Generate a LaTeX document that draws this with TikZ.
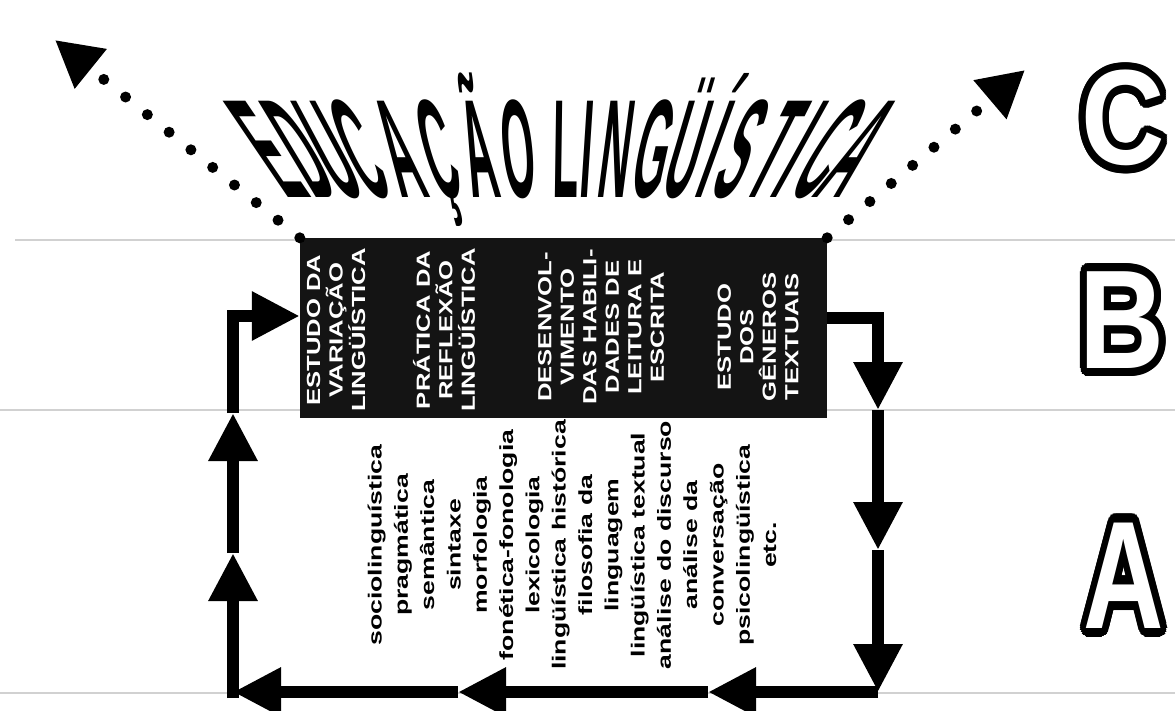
\documentclass[tikz,border=0pt]{standalone}
\usepackage{fontspec}
\usepackage{contour}
\usetikzlibrary{arrows.meta}
\setmainfont{Liberation Sans}
\newfontfamily\boxfont[FakeStretch=1.35]{Liberation Sans}
\newfontfamily\listfont[FakeStretch=1.4]{Liberation Sans}
\newfontfamily\titlefont{Liberation Sans}
\contourlength{6pt}
\contournumber{24}
\begin{document}
\begin{tikzpicture}[x=1pt,y=-1pt,
  guide/.style={draw=black!18, line width=1.3pt},
  dotline/.style={line width=11pt, line cap=round, dash pattern=on 0pt off 28pt, -{Triangle[length=46pt,width=48pt]}},
  flow/.style={line width=12pt, line join=miter, -{Triangle[length=48pt,width=46pt]}},
  boxtext/.style={rotate=90, text=white, align=center, inner sep=0pt, font=\boxfont\bfseries\fontsize{19}{22.5}\selectfont},
  listtext/.style={rotate=90, text=black, align=center, inner sep=0pt, font=\listfont\bfseries\fontsize{19}{26.3}\selectfont},
  titleletter/.style={inner sep=0pt, anchor=base, font=\titlefont\bfseries\fontsize{40}{40}\selectfont},
  bigletter/.style={inner sep=0pt, text=white, font=\titlefont\bfseries\fontsize{105}{105}\selectfont}
]
\useasboundingbox (0,0) rectangle (1175,711);
\fill[white] (0,0) rectangle (1175,711);
% faint ruled lines
\draw[guide] (15,240) -- (300,240);
\draw[guide] (827,240) -- (1175,240);
\draw[guide] (0,410) -- (300,410);
\draw[guide] (827,410) -- (1175,410);
\draw[guide] (0,693) -- (1175,693);
% black box
\node[fill=black!92, minimum width=527pt, minimum height=180pt, inner sep=0pt] (box) at (563.5,328) {};
\node[boxtext] (c1) at (336,330) {ESTUDO DA\\VARIAÇÃO\\LINGÜÍSTICA};
\node[boxtext] (c2) at (444,330) {PRÁTICA DA\\REFLEXÃO\\LINGÜÍSTICA};
\node[boxtext] (c3) at (601,327) {DESENVOL-\\VIMENTO\\DAS HABILI-\\DADES DE\\LEITURA E\\ESCRITA};
\node[boxtext] (c4) at (758,337) {ESTUDO\\DOS\\GÊNEROS\\TEXTUAIS};
% list below
\node[listtext] (list) at (572,545) {sociolinguística\\pragmática\\semântica\\sintaxe\\morfologia\\fonética-fonologia\\lexicologia\\lingüística histórica\\filosofia da\\linguagem\\lingüística textual\\análise do discurso\\análise da\\conversação\\psicolingüística\\etc.};
% title
\foreach \ch/\xm [count=\i] in {E/266,D/299,U/328,C/358,A/398,Ç/438,Ã/478,O/518,L/566,I/588,N/617,G/655,Ü/688,Í/716,S/743,T/777,I/801,C/831,A/860}{
  \pgfmathsetmacro\sl{0.0023*(\xm-560)}
  \pgfmathsetmacro\xb{\xm-\sl*50}
  \node[titleletter, xslant=\sl, yscale=3.5, xscale=1.05] (t\i) at (\xb,198) {\ch};
}
% big outlined letters
\node[bigletter, yscale=1.29, xscale=1.1] (lc) at (1123,122) {\contour{black}{C}};
\node[bigletter, yscale=1.34, xscale=1.12] (lb) at (1122,324) {\contour{black}{B}};
\node[bigletter, yscale=1.46, xscale=1.06] (la) at (1124,580) {\contour{black}{A}};
% flow loop
\coordinate (r0) at (878,318);
\coordinate (r1) at (878,410);
\coordinate (r2) at (878,550);
\coordinate (r3) at (878,692);
\coordinate (b1) at (708,692);
\coordinate (b2) at (458,692);
\coordinate (b3) at (233,692);
\coordinate (l1) at (233,553);
\coordinate (l2) at (233,413);
\coordinate (l0) at (233,316);
\draw[flow] (box.east |- r0) -- (r0) -- (r1);
\draw[flow] (r1) -- (r2);
\draw[flow] (r2) -- (r3);
\draw[flow] (r3) -- (b1);
\draw[flow] (b1) -- (b2);
\draw[flow] (b2) -- (b3);
\draw[flow] ([yshift=-6pt]b3) -- (l1);
\draw[flow] (l1) -- (l2);
\draw[flow] (l2) -- (l0) -- (box.west |- l0);
% dotted arrows
\coordinate (ltip) at (55,40);
\coordinate (rtip) at (1025,70);
\draw[dotline] (box.north west) -- (ltip);
\draw[dotline] (box.north east) -- (rtip);
\end{tikzpicture}
\end{document}
